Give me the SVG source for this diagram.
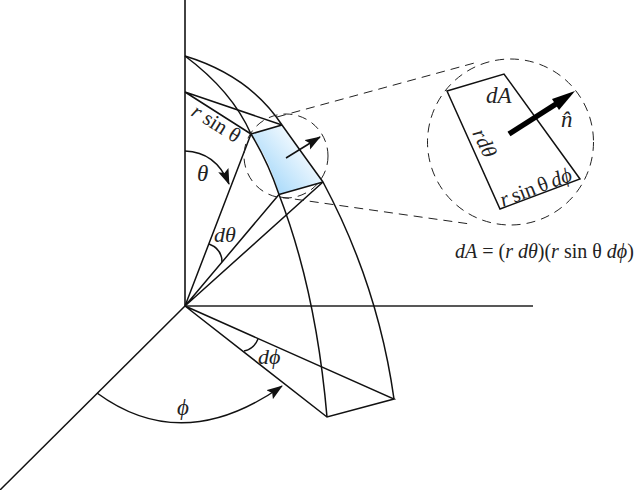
<svg xmlns="http://www.w3.org/2000/svg" width="637" height="490" viewBox="0 0 637 490">
<style>
.l{fill:none;stroke:#111;stroke-width:1.5}
.a{fill:none;stroke:#222;stroke-width:1.7}
.d{fill:none;stroke:#222;stroke-width:1;stroke-dasharray:9 6}
.t{font-family:"Liberation Serif","Times New Roman",serif;font-size:21px;fill:#222}
.i{font-style:italic}
</style>
<defs>
<linearGradient id="g" gradientUnits="userSpaceOnUse" x1="262" y1="180" x2="310" y2="140">
<stop offset="0" stop-color="#a5d8fa"/><stop offset="1" stop-color="#ffffff"/>
</linearGradient>
<marker id="h" markerWidth="16" markerHeight="12" refX="15" refY="6" orient="auto" markerUnits="userSpaceOnUse"><path d="M0 0.500L16 6L0 11.500L3 6Z" fill="#111"/></marker>
</defs>
<rect width="637" height="490" fill="#fff"/>
<g id="patch"><path d="M251 134L282 125Q300 152 323 182L279 194.500Q270 160 251 134Z" fill="url(#g)"/></g>
<g id="connectors">
<path class="a" d="M185 0V306H533"/>
<path class="l" d="M185 306L0 490"/>
<path class="l" d="M185 56Q250 76 282 125Q307 160 323 182Q378 285 394 399"/>
<path class="l" d="M185 56Q232 91 251 134Q268 162 279 194.500Q316 290 327 417"/>
<path class="l" d="M185 92L251 134M185 92L282 125M251 134L282 125M279 194.500L323 182"/>
<path class="l" d="M185 306L251 134M185 306L279 194.500M185 306L323 182"/>
<path class="l" d="M185 306L327 417L394 399L185 306"/>
<path class="l" d="M286 158L320 137" marker-end="url(#h)"/>
<path class="l" d="M185 151Q216 152 229 184" marker-end="url(#h)"/>
<path class="l" d="M209 244Q222 249 222 262"/>
<path class="l" d="M244 351Q254 349 258 339"/>
<path class="l" d="M97 393Q183 456 282 386" marker-end="url(#h)"/>
<path class="d" d="M277 117L478 62M280 197L470 224"/>
<circle class="d" cx="286" cy="156" r="42"/>
<circle class="d" cx="510.500" cy="142" r="83"/>
<path class="l" d="M447 91L504 74L580 179L500 209Z"/>
<path d="M509 134L556 104" fill="none" stroke="#000" stroke-width="5.500"/>
<path d="M575 91L552 99L559 110Z" fill="#000"/>
</g>
<g id="labels">
<text class="t" transform="translate(190 115) rotate(32)"><tspan class="i">r</tspan> sin θ</text>
<text class="t i" x="197" y="181" style="font-size:23px">θ</text>
<text class="t i" x="214" y="242" style="font-size:22px">dθ</text>
<text class="t i" x="258" y="364" style="font-size:22px">dϕ</text>
<text class="t i" x="177" y="415" style="font-size:23px">ϕ</text>
<text class="t i" x="486" y="103" style="font-size:23px">dA</text>
<text class="t i" x="561" y="127" style="font-size:23px">n̂</text>
<text class="t" transform="translate(472 133) rotate(64)"><tspan class="i">r</tspan><tspan class="i" dx="1">dθ</tspan></text>
<text class="t" transform="translate(503 207) rotate(-21)" style="word-spacing:-1.500px"><tspan class="i">r</tspan> sin θ <tspan class="i">dϕ</tspan></text>
<text class="t" x="455" y="258" style="font-size:20px"><tspan class="i">dA</tspan> = (<tspan class="i">r dθ</tspan>)(<tspan class="i">r</tspan> sin θ <tspan class="i">dϕ</tspan>)</text>
</g>
</svg>
